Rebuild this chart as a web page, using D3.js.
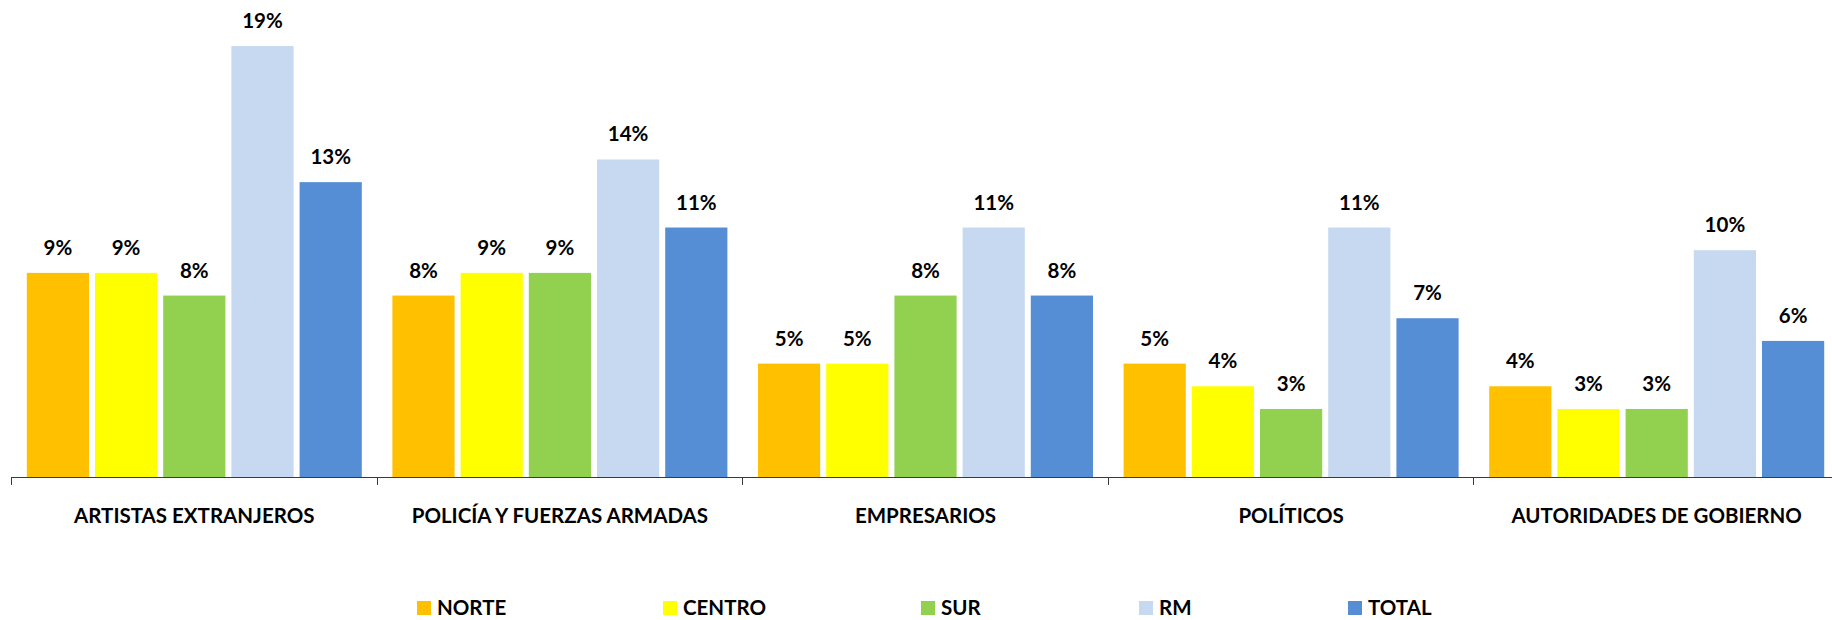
<!doctype html>
<html>
<head>
  <meta charset="utf-8">
  <style>
      body { margin:0; background:#fff; }
      svg { display:block; }
      text { font-family:Lato, "Open Sans", sans-serif; font-weight:bold; fill:#000; }
      .axis path, .axis line { stroke:#3a3a3a; shape-rendering:crispEdges; }
  </style>
  <script src="https://cdn.jsdelivr.net/npm/d3@7"></script>
</head>
<body>
  <script>
      // data
      var categories = ["ARTISTAS EXTRANJEROS", "POLICÍA Y FUERZAS ARMADAS", "EMPRESARIOS", "POLÍTICOS", "AUTORIDADES DE GOBIERNO"];
      var series = ["NORTE", "CENTRO", "SUR", "RM", "TOTAL"];
      var norte  = [0.09, 0.08, 0.05, 0.05, 0.04];
      var centro = [0.09, 0.09, 0.05, 0.04, 0.03];
      var sur    = [0.08, 0.09, 0.08, 0.03, 0.03];
      var rm     = [0.19, 0.14, 0.11, 0.11, 0.10];
      var total  = [0.13, 0.11, 0.08, 0.07, 0.06];

      var colors = ["#FFC000", "#FFFF00", "#92D050", "#C6D9F1", "#558ED5"];
      var legendX = [417, 663, 921, 1139, 1348];

      var W = 1832, H = 620;
      var values = [norte, centro, sur, rm, total];

      var svg = d3.select("body").append("svg")
         .attr("width", W)
         .attr("height", H);

      // scales
      var x0 = d3.scaleBand()
         .domain(categories)
         .range([11.5, 11.5 + 5*365.6]);

      var x1 = d3.scaleBand()
         .domain(series)
         .range([15.3, 350.3])
         .paddingInner(0.088);

      var y = d3.scaleLinear()
         .domain([0, 0.20])
         .range([477, 23.4]);

      // build rows per category
      var rows = categories.map(function(c, i) {
         return series.map(function(s, j) {
            return { cat:c, key:s, value:values[j][i], color:colors[j] };
         });
      });

      var groups = svg.append("g").selectAll("g")
         .data(rows)
         .enter()
         .append("g")
         .attr("transform", function(d, i) { return "translate(" + x0(categories[i]) + ",0)"; });

      groups.selectAll("rect")
         .data(function(d) { return d; })
         .enter()
         .append("rect")
         .attr("x", function(d) { return x1(d.key); })
         .attr("y", function(d) { return y(d.value); })
         .attr("width", x1.bandwidth())
         .attr("height", function(d) { return y(0) - y(d.value); })
         .attr("fill", function(d) { return d.color; });

      groups.selectAll("text")
         .data(function(d) { return d; })
         .enter()
         .append("text")
         .attr("x", function(d) { return x1(d.key) + x1.bandwidth()/2; })
         .attr("y", function(d) { return y(d.value) - 18; })
         .attr("text-anchor", "middle")
         .style("font-size", "20.5px")
         .text(function(d) { return d3.format(".0%")(d.value); });

      // x axis with ticks at category boundaries
      var axis = svg.append("g")
         .attr("class", "axis")
         .attr("transform", "translate(0," + y(0) + ")");

      axis.append("line")
         .attr("x1", x0.range()[0])
         .attr("x2", x0.range()[1])
         .attr("y1", 0).attr("y2", 0);

      axis.selectAll("line.tick")
         .data(categories.concat(["end"]))
         .enter()
         .append("line")
         .attr("class", "tick")
         .attr("x1", function(d, i) { return x0.range()[0] + i*x0.step(); })
         .attr("x2", function(d, i) { return x0.range()[0] + i*x0.step(); })
         .attr("y1", 0)
         .attr("y2", 8);

      axis.selectAll("text")
         .data(categories)
         .enter()
         .append("text")
         .attr("x", function(d) { return x0(d) + x0.bandwidth()/2; })
         .attr("y", 46)
         .attr("text-anchor", "middle")
         .style("font-size", "20.5px")
         .text(function(d) { return d; });

      // legend
      var legend = svg.append("g").selectAll("g")
         .data(series)
         .enter()
         .append("g")
         .attr("transform", function(d, i) { return "translate(" + legendX[i] + ",601)"; });

      legend.append("rect")
         .attr("width", 14)
         .attr("height", 14)
         .attr("fill", function(d, i) { return colors[i]; });

      legend.append("text")
         .attr("x", 20)
         .attr("y", 14)
         .style("font-size", "20.5px")
         .text(function(d) { return d; });
  </script>
</body>
</html>
